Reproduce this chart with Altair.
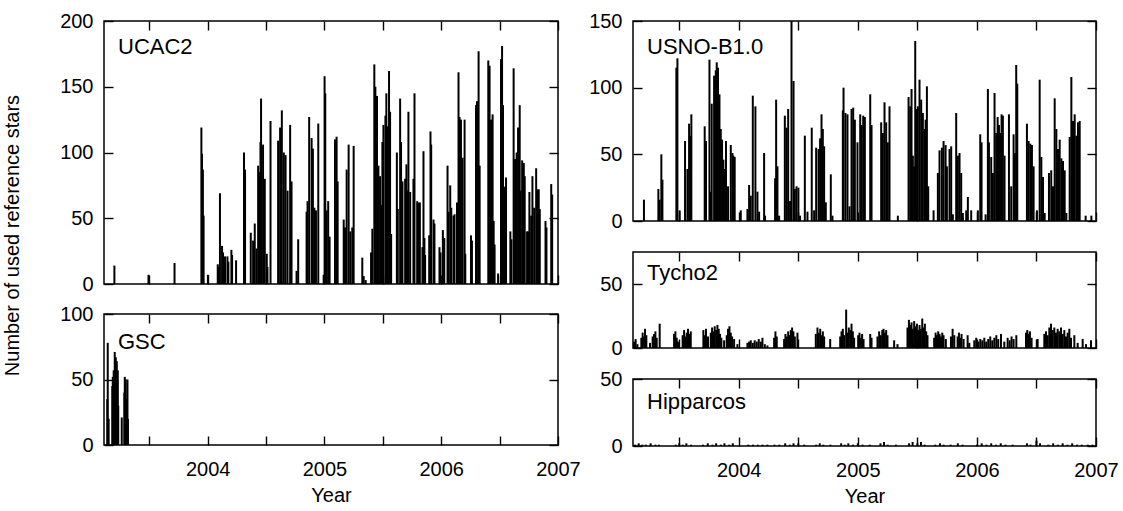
import altair as alt
import pandas as pd

FONT = "Liberation Sans"
FS = 20
NAME_FS = 22
TL = 9

# (decimal year, number of reference stars)
UCAC2 = [
    (2003.201, 14), (2003.493, 7), (2003.716, 16), (2003.946, 119), (2003.951, 99), (2003.959, 87),
    (2003.965, 52), (2004.002, 7), (2004.086, 15), (2004.092, 13), (2004.105, 69), (2004.123, 29),
    (2004.131, 24), (2004.148, 21), (2004.169, 21), (2004.177, 17), (2004.203, 26), (2004.209, 22),
    (2004.243, 18), (2004.311, 100), (2004.320, 87), (2004.369, 39), (2004.389, 33), (2004.403, 46),
    (2004.418, 27), (2004.432, 90), (2004.440, 85), (2004.452, 108), (2004.457, 141), (2004.474, 106),
    (2004.489, 80), (2004.506, 23), (2004.512, 13), (2004.538, 124), (2004.603, 109), (2004.620, 119),
    (2004.635, 132), (2004.652, 100), (2004.667, 98), (2004.684, 71), (2004.706, 121), (2004.718, 78),
    (2004.761, 10), (2004.775, 34), (2004.847, 55), (2004.855, 63), (2004.869, 127), (2004.890, 111),
    (2004.901, 103), (2004.913, 58), (2004.927, 56), (2004.947, 122), (2004.993, 7), (2005.001, 158),
    (2005.007, 145), (2005.019, 56), (2005.032, 63), (2005.044, 36), (2005.090, 110), (2005.104, 112),
    (2005.113, 78), (2005.165, 49), (2005.176, 43), (2005.190, 87), (2005.207, 106), (2005.221, 40),
    (2005.238, 43), (2005.250, 105), (2005.324, 20), (2005.336, 6), (2005.353, 3), (2005.399, 24),
    (2005.410, 42), (2005.427, 167), (2005.436, 150), (2005.450, 143), (2005.462, 90), (2005.476, 82),
    (2005.485, 60), (2005.496, 108), (2005.505, 121), (2005.522, 128), (2005.530, 145), (2005.542, 120),
    (2005.553, 162), (2005.562, 131), (2005.571, 38), (2005.620, 100), (2005.628, 57), (2005.648, 141),
    (2005.656, 108), (2005.668, 78), (2005.691, 80), (2005.702, 91), (2005.714, 71), (2005.719, 131),
    (2005.734, 70), (2005.762, 80), (2005.771, 145), (2005.794, 63), (2005.805, 62), (2005.817, 62),
    (2005.839, 28), (2005.848, 101), (2005.856, 35), (2005.862, 22), (2005.897, 37), (2005.908, 116),
    (2005.914, 106), (2005.934, 49), (2005.942, 46), (2005.985, 28), (2005.994, 24), (2006.014, 41),
    (2006.026, 35), (2006.054, 90), (2006.063, 55), (2006.077, 75), (2006.086, 58), (2006.105, 52),
    (2006.114, 53), (2006.135, 62), (2006.148, 161), (2006.157, 127), (2006.169, 125), (2006.183, 96),
    (2006.200, 125), (2006.206, 23), (2006.255, 37), (2006.263, 33), (2006.298, 136), (2006.306, 139),
    (2006.320, 177), (2006.329, 90), (2006.403, 170), (2006.414, 166), (2006.426, 125), (2006.440, 129),
    (2006.449, 48), (2006.457, 30), (2006.487, 8), (2006.512, 171), (2006.521, 181), (2006.529, 136),
    (2006.543, 74), (2006.555, 81), (2006.592, 40), (2006.601, 34), (2006.620, 164), (2006.632, 95),
    (2006.646, 100), (2006.658, 119), (2006.672, 136), (2006.680, 71), (2006.693, 94), (2006.707, 92),
    (2006.715, 82), (2006.735, 40), (2006.744, 40), (2006.755, 70), (2006.770, 52), (2006.781, 82),
    (2006.796, 58), (2006.813, 88), (2006.824, 72), (2006.835, 72), (2006.844, 57), (2006.893, 48),
    (2006.901, 43), (2006.942, 76), (2006.950, 68),
]

GSC = [
    (2003.140, 35), (2003.144, 78), (2003.152, 20), (2003.183, 45), (2003.187, 52), (2003.195, 57),
    (2003.204, 71), (2003.208, 60), (2003.213, 67), (2003.217, 62), (2003.221, 64), (2003.226, 50),
    (2003.230, 57), (2003.234, 30), (2003.264, 21), (2003.286, 40), (2003.290, 52), (2003.298, 50),
    (2003.305, 35), (2003.313, 50), (2003.317, 20),
]

USNO = [
    (2003.204, 16), (2003.325, 24), (2003.336, 16), (2003.350, 50), (2003.359, 31), (2003.476, 115),
    (2003.485, 122), (2003.504, 8), (2003.549, 60), (2003.569, 39), (2003.583, 73), (2003.591, 64),
    (2003.602, 80), (2003.714, 71), (2003.725, 60), (2003.754, 121), (2003.765, 22), (2003.773, 88),
    (2003.793, 109), (2003.807, 113), (2003.815, 119), (2003.826, 115), (2003.838, 95), (2003.849, 69),
    (2003.860, 61), (2003.871, 46), (2003.882, 39), (2003.893, 60), (2003.910, 26), (2003.933, 57),
    (2003.947, 51), (2003.955, 49), (2003.966, 48), (2004.017, 8), (2004.073, 9), (2004.087, 27),
    (2004.101, 19), (2004.118, 94), (2004.140, 86), (2004.157, 22), (2004.171, 7), (2004.213, 51),
    (2004.221, 4), (2004.305, 32), (2004.314, 91), (2004.325, 41), (2004.339, 4), (2004.387, 79),
    (2004.401, 70), (2004.415, 84), (2004.431, 15), (2004.443, 150), (2004.460, 105), (2004.471, 24),
    (2004.485, 26), (2004.501, 25), (2004.515, 4), (2004.555, 64), (2004.577, 7), (2004.613, 70),
    (2004.633, 8), (2004.650, 55), (2004.670, 54), (2004.683, 62), (2004.695, 80), (2004.706, 69),
    (2004.717, 56), (2004.731, 14), (2004.773, 35), (2004.787, 4), (2004.874, 83), (2004.880, 100),
    (2004.896, 81), (2004.913, 80), (2004.930, 11), (2004.947, 84), (2004.961, 85), (2004.975, 76),
    (2004.997, 59), (2005.020, 80), (2005.031, 72), (2005.045, 79), (2005.059, 78), (2005.104, 95),
    (2005.115, 72), (2005.196, 74), (2005.210, 66), (2005.224, 89), (2005.238, 74), (2005.252, 59),
    (2005.266, 86), (2005.336, 4), (2005.426, 93), (2005.440, 86), (2005.451, 99), (2005.462, 49),
    (2005.473, 41), (2005.482, 135), (2005.490, 84), (2005.504, 86), (2005.518, 106), (2005.532, 91),
    (2005.546, 81), (2005.560, 69), (2005.569, 76), (2005.580, 101), (2005.591, 26), (2005.636, 8),
    (2005.672, 36), (2005.686, 53), (2005.706, 55), (2005.720, 60), (2005.737, 57), (2005.748, 41),
    (2005.770, 54), (2005.784, 56), (2005.798, 5), (2005.826, 81), (2005.840, 49), (2005.854, 51),
    (2005.868, 36), (2005.882, 6), (2005.910, 8), (2005.924, 18), (2005.952, 8), (2006.008, 8),
    (2006.028, 65), (2006.039, 59), (2006.073, 5), (2006.092, 99), (2006.101, 59), (2006.120, 48),
    (2006.134, 36), (2006.148, 96), (2006.162, 66), (2006.174, 78), (2006.185, 72), (2006.196, 66),
    (2006.207, 80), (2006.218, 79), (2006.232, 49), (2006.269, 80), (2006.288, 26), (2006.308, 65),
    (2006.319, 51), (2006.330, 117), (2006.339, 103), (2006.420, 73), (2006.434, 60), (2006.448, 58),
    (2006.462, 57), (2006.476, 41), (2006.504, 8), (2006.527, 106), (2006.541, 48), (2006.555, 33),
    (2006.569, 6), (2006.605, 36), (2006.624, 38), (2006.639, 26), (2006.653, 92), (2006.667, 69),
    (2006.681, 54), (2006.695, 61), (2006.709, 47), (2006.723, 45), (2006.737, 38), (2006.751, 6),
    (2006.779, 63), (2006.793, 108), (2006.807, 75), (2006.821, 80), (2006.835, 64), (2006.849, 74),
    (2006.863, 75), (2006.913, 4), (2006.961, 4),
]

TYCHO2 = [
    (2003.120, 5), (2003.134, 7), (2003.149, 3), (2003.182, 8), (2003.193, 12), (2003.205, 9),
    (2003.213, 15), (2003.224, 10), (2003.255, 4), (2003.277, 9), (2003.289, 11), (2003.300, 13),
    (2003.311, 8), (2003.336, 19), (2003.457, 11), (2003.468, 13), (2003.479, 8), (2003.490, 5),
    (2003.529, 10), (2003.541, 14), (2003.552, 9), (2003.563, 12), (2003.574, 15), (2003.585, 11),
    (2003.597, 13), (2003.703, 14), (2003.714, 10), (2003.725, 15), (2003.742, 9), (2003.765, 12),
    (2003.776, 16), (2003.787, 13), (2003.798, 17), (2003.810, 14), (2003.821, 18), (2003.832, 15),
    (2003.843, 11), (2003.854, 8), (2003.877, 6), (2003.899, 10), (2003.910, 15), (2003.922, 17),
    (2003.933, 12), (2003.944, 9), (2003.961, 7), (2003.989, 3), (2004.073, 4), (2004.087, 5),
    (2004.101, 6), (2004.118, 4), (2004.134, 6), (2004.151, 5), (2004.168, 7), (2004.185, 5),
    (2004.199, 8), (2004.219, 3), (2004.241, 2), (2004.297, 8), (2004.308, 13), (2004.319, 9),
    (2004.381, 7), (2004.392, 11), (2004.403, 9), (2004.415, 13), (2004.426, 10), (2004.437, 14),
    (2004.448, 16), (2004.459, 13), (2004.471, 9), (2004.493, 12), (2004.647, 11), (2004.661, 16),
    (2004.672, 12), (2004.684, 15), (2004.695, 10), (2004.706, 13), (2004.717, 9), (2004.768, 7),
    (2004.852, 9), (2004.863, 13), (2004.874, 15), (2004.885, 10), (2004.902, 30), (2004.913, 12),
    (2004.924, 16), (2004.936, 14), (2004.947, 19), (2004.958, 13), (2004.969, 8), (2005.003, 10),
    (2005.014, 12), (2005.025, 8), (2005.036, 11), (2005.048, 7), (2005.104, 11), (2005.115, 8),
    (2005.165, 9), (2005.179, 13), (2005.193, 10), (2005.205, 14), (2005.216, 15), (2005.227, 12),
    (2005.238, 14), (2005.249, 10), (2005.305, 6), (2005.333, 3), (2005.417, 16), (2005.429, 22),
    (2005.440, 18), (2005.451, 20), (2005.462, 15), (2005.473, 21), (2005.485, 17), (2005.496, 19),
    (2005.507, 14), (2005.518, 18), (2005.529, 15), (2005.541, 23), (2005.552, 16), (2005.563, 19),
    (2005.574, 13), (2005.585, 10), (2005.641, 8), (2005.653, 12), (2005.664, 10), (2005.675, 13),
    (2005.686, 11), (2005.698, 9), (2005.709, 12), (2005.720, 10), (2005.739, 7), (2005.782, 9),
    (2005.796, 15), (2005.810, 10), (2005.838, 9), (2005.849, 12), (2005.860, 8), (2005.871, 11),
    (2005.888, 7), (2005.922, 10), (2005.936, 4), (2005.978, 6), (2005.994, 8), (2006.011, 5),
    (2006.028, 7), (2006.045, 6), (2006.062, 8), (2006.078, 5), (2006.095, 7), (2006.112, 9),
    (2006.129, 6), (2006.146, 8), (2006.163, 10), (2006.179, 7), (2006.202, 11), (2006.230, 5),
    (2006.258, 8), (2006.275, 6), (2006.291, 9), (2006.308, 7), (2006.331, 10), (2006.412, 12),
    (2006.423, 14), (2006.434, 11), (2006.445, 13), (2006.459, 8), (2006.510, 7), (2006.566, 11),
    (2006.580, 13), (2006.594, 10), (2006.608, 16), (2006.622, 19), (2006.636, 14), (2006.650, 16),
    (2006.664, 12), (2006.678, 15), (2006.692, 13), (2006.706, 16), (2006.720, 11), (2006.734, 14),
    (2006.748, 9), (2006.762, 12), (2006.776, 15), (2006.790, 8), (2006.818, 10), (2006.846, 4),
    (2006.888, 7), (2006.916, 3), (2006.958, 6),
]

HIPPARCOS = [
    (2003.13, 1), (2003.16, 2), (2003.19, 1), (2003.22, 1), (2003.26, 2), (2003.30, 1), (2003.33, 1),
    (2003.47, 1), (2003.50, 2), (2003.53, 1), (2003.56, 2), (2003.60, 1), (2003.70, 1), (2003.74, 2),
    (2003.78, 1), (2003.81, 2), (2003.85, 1), (2003.88, 2), (2003.92, 1), (2003.95, 2), (2004.08, 1),
    (2004.12, 1), (2004.16, 1), (2004.20, 1), (2004.24, 1), (2004.30, 1), (2004.34, 1), (2004.39, 2),
    (2004.43, 1), (2004.46, 2), (2004.50, 2), (2004.55, 1), (2004.65, 1), (2004.68, 2), (2004.71, 1),
    (2004.77, 1), (2004.86, 2), (2004.89, 1), (2004.92, 2), (2004.96, 1), (2005.00, 2), (2005.04, 1),
    (2005.10, 1), (2005.19, 2), (2005.22, 3), (2005.25, 1), (2005.32, 1), (2005.43, 2), (2005.46, 3),
    (2005.50, 2), (2005.53, 3), (2005.56, 1), (2005.65, 1), (2005.69, 2), (2005.72, 1), (2005.78, 1),
    (2005.84, 2), (2005.88, 1), (2006.00, 1), (2006.04, 2), (2006.08, 1), (2006.12, 2), (2006.16, 1),
    (2006.20, 2), (2006.24, 1), (2006.30, 1), (2006.42, 2), (2006.45, 1), (2006.50, 4), (2006.53, 2),
    (2006.60, 1), (2006.64, 2), (2006.68, 1), (2006.72, 2), (2006.76, 1), (2006.80, 2), (2006.84, 1),
    (2006.88, 1), (2006.93, 1), (2006.97, 1),
]

X_DOMAIN = [2003.112, 2007.0]
X_TICKS = [2003.5, 2004, 2004.5, 2005, 2005.5, 2006, 2006.5, 2007]
X_LABEL_EXPR = "datum.value % 1 === 0 ? format(datum.value, 'd') : ''"


def panel(data, name, ymax, yvalues, w, h, xlabels, name_y, ytitle=False):
    df = pd.DataFrame(data, columns=["year", "n"])
    xs = alt.Scale(domain=X_DOMAIN, nice=False, zero=False)
    ys = alt.Scale(domain=[0, ymax], nice=False, zero=True)

    tick_common = dict(ticks=True, tickSize=TL, tickWidth=1.4, tickColor="black",
                       domain=False, grid=False, offset=-TL)
    # bottom x axis: inward ticks (+ labels on the lowest panels)
    xb = dict(values=X_TICKS, orient="bottom", **tick_common)
    if xlabels:
        xb.update(labels=True, labelExpr=X_LABEL_EXPR, labelFlush=False, labelOverlap=False,
                  labelFont=FONT, labelFontSize=FS, labelColor="black", labelPadding=14,
                  title="Year", titleFont=FONT, titleFontSize=FS, titleFontWeight="normal",
                  titleColor="black", titlePadding=6)
    else:
        xb.update(labels=False, title=None)
    # top x axis: inward ticks only
    xt = dict(values=X_TICKS, orient="top", labels=False, title=None, **tick_common)
    # left y axis: inward ticks + labels
    yl = dict(values=yvalues, orient="left", labels=True, labelFont=FONT, labelFontSize=FS,
              labelColor="black", labelPadding=11, labelFlush=False, labelOverlap=False,
              **tick_common)
    if ytitle:
        yl.update(title="Number of used reference stars", titleFont=FONT, titleFontSize=FS,
                  titleFontWeight="normal", titleColor="black", titleX=-101, titleY=214,
                  titleAngle=270, titleAlign="center", titleBaseline="middle")
    else:
        yl.update(title=None)
    # right y axis: inward ticks only
    yr = dict(values=yvalues, orient="right", labels=False, title=None, **tick_common)

    bars = alt.Chart(df).mark_rule(color="black", strokeWidth=2.0).encode(
        x=alt.X("year:Q", scale=xs, axis=alt.Axis(**xb)),
        y=alt.Y("n:Q", scale=ys, axis=alt.Axis(**yl)),
        y2=alt.datum(0),
    )
    frame_ticks = alt.Chart(df).mark_rule(opacity=0).encode(
        x=alt.X("year:Q", scale=xs, axis=alt.Axis(**xt)),
        y=alt.Y("n:Q", scale=ys, axis=alt.Axis(**yr)),
        y2=alt.datum(0),
    )
    label = alt.Chart(pd.DataFrame({"name": [name]})).mark_text(
        align="left", baseline="middle", font=FONT, fontSize=NAME_FS, color="black").encode(
        x=alt.value(14), y=alt.value(name_y), text="name:N")
    return alt.layer(bars, frame_ticks, label).resolve_axis(
        x="independent", y="independent").properties(width=w, height=h)


ucac = panel(UCAC2, "UCAC2", 200, [0, 50, 100, 150, 200], 454, 263, False, 26, True)
gsc = panel(GSC, "GSC", 100, [0, 50, 100], 454, 131, True, 28)
usno = panel(USNO, "USNO-B1.0", 150, [0, 50, 100, 150], 463, 200, False, 26)
tycho = panel(TYCHO2, "Tycho2", 75, [0, 50], 463, 96, False, 21)
hipp = panel(HIPPARCOS, "Hipparcos", 50, [0, 50], 463, 67, True, 23)

left = alt.vconcat(ucac, gsc, spacing=30, bounds="flush")
right = alt.vconcat(usno, tycho, hipp, spacing=31, bounds="flush")

chart = alt.hconcat(left, right, spacing=6).properties(
    padding={"left": 1, "top": 10, "right": 0, "bottom": 3},
    background="white",
).configure_view(stroke="black", strokeWidth=1.5)

chart.save("out.html", embed_options={"renderer": "svg", "actions": False})
